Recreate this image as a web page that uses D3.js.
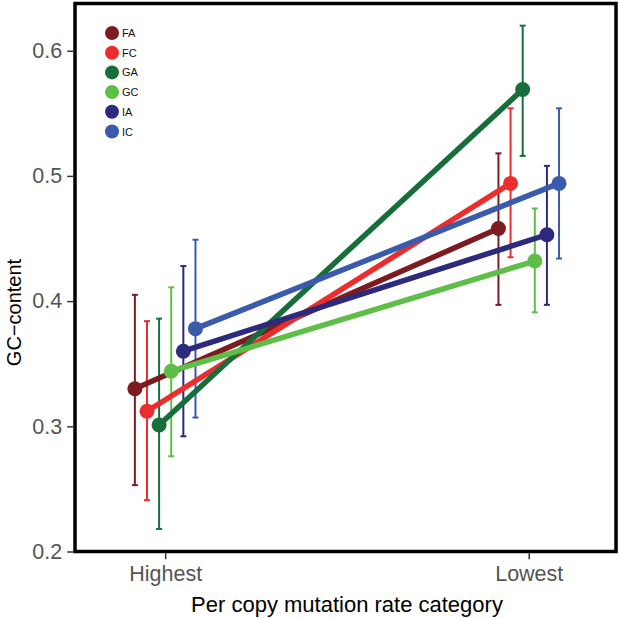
<!DOCTYPE html>
<html><head><meta charset="utf-8">
<script src="https://cdn.jsdelivr.net/npm/d3@7"></script>
<style>body{margin:0;background:#fff}svg{display:block}text{font-family:"Liberation Sans",Arial,sans-serif}</style>
</head><body><svg id="c" width="619" height="618"></svg>
<script>
const categories = ["Highest", "Lowest"];
const groups = ["FA", "FC", "GA", "GC", "IA", "IC"];
const colors = ["#7E1B20", "#EC2D2E", "#176E3B", "#5EBE48", "#2C2A7D", "#3A5BAB"];
const meanHighest = [0.330, 0.312, 0.301, 0.344, 0.360, 0.378];
const lowHighest  = [0.253, 0.241, 0.218, 0.276, 0.292, 0.307];
const highHighest = [0.405, 0.384, 0.386, 0.411, 0.428, 0.449];
const meanLowest  = [0.458, 0.494, 0.569, 0.432, 0.453, 0.494];
const lowLowest   = [0.397, 0.435, 0.516, 0.391, 0.397, 0.434];
const highLowest  = [0.518, 0.554, 0.620, 0.474, 0.508, 0.554];
const yTicks = [0.2, 0.3, 0.4, 0.5, 0.6];

const svg = d3.select("#c");
const L = 75, R = 616, T = 3.5, B = 551.5;
const x = d3.scaleLinear().domain([0.752, 2.24]).range([L, R]);
const y = d3.scaleLinear().domain([0.2, 0.6]).range([551.5, 50.7]);
const dodge = 0.2 / groups.length;

const data = groups.map((g, i) => ({
  g, color: colors[i],
  pts: [
    {xi: 1 + (i - 2.5) * dodge, m: meanHighest[i], lo: lowHighest[i], hi: highHighest[i]},
    {xi: 2 + (i - 2.5) * dodge, m: meanLowest[i], lo: lowLowest[i], hi: highLowest[i]}
  ]
}));

const plot = svg.append("g");
// error bars
data.forEach(d => {
  d.pts.forEach(p => {
    const gx = x(p.xi);
    plot.append("line").attr("x1", gx).attr("x2", gx).attr("y1", y(p.lo)).attr("y2", y(p.hi))
      .attr("stroke", d.color).attr("stroke-width", 2);
    [p.lo, p.hi].forEach(v => plot.append("line").attr("x1", gx - 3).attr("x2", gx + 3)
      .attr("y1", y(v)).attr("y2", y(v)).attr("stroke", d.color).attr("stroke-width", 2));
  });
});
// lines
const line = d3.line().x(p => x(p.xi)).y(p => y(p.m));
data.forEach(d => {
  plot.append("path").attr("d", line(d.pts)).attr("fill", "none")
    .attr("stroke", d.color).attr("stroke-width", 5.5);
});
// points
data.forEach(d => {
  d.pts.forEach(p => plot.append("circle").attr("cx", x(p.xi)).attr("cy", y(p.m)).attr("r", 7.5).attr("fill", d.color));
});

// frame
svg.append("rect").attr("x", L).attr("y", T).attr("width", R - L).attr("height", B - T)
  .attr("fill", "none").attr("stroke", "#000").attr("stroke-width", 3.5);

// y axis
const yAxis = svg.append("g").attr("transform", `translate(${L - 1.75},0)`)
  .call(d3.axisLeft(y).tickValues(yTicks).tickFormat(d3.format(".1f")).tickSize(6).tickPadding(5));
yAxis.select(".domain").remove();
yAxis.selectAll(".tick line").attr("stroke", "#333").attr("stroke-width", 1.5);
yAxis.selectAll(".tick text").attr("fill", "#555").style("font-size", "21.5px");

// x axis
const xAxis = svg.append("g").attr("transform", `translate(0,${B + 1.75})`)
  .call(d3.axisBottom(x).tickValues([1, 2]).tickFormat((d) => categories[d - 1]).tickSize(6).tickPadding(6));
xAxis.select(".domain").remove();
xAxis.selectAll(".tick line").attr("stroke", "#333").attr("stroke-width", 1.5);
xAxis.selectAll(".tick text").attr("fill", "#555").style("font-size", "21.5px");

// titles
svg.append("text").attr("x", 347).attr("y", 612).attr("text-anchor", "middle")
  .style("font-size", "22px").attr("fill", "#000").text("Per copy mutation rate category");
svg.append("text").attr("transform", `translate(21,${(T + B) / 2 + 35}) rotate(-90)`).attr("text-anchor", "middle")
  .style("font-size", "20px").attr("fill", "#000").text("GC\u2212content");

// legend
const leg = svg.append("g");
groups.forEach((g, i) => {
  const cy = 33 + i * 19.7;
  leg.append("circle").attr("cx", 112).attr("cy", cy).attr("r", 7).attr("fill", colors[i]);
  leg.append("text").attr("x", 122).attr("y", cy + 4).style("font-size", "11px").attr("fill", "#111").text(g);
});
</script></body></html>
